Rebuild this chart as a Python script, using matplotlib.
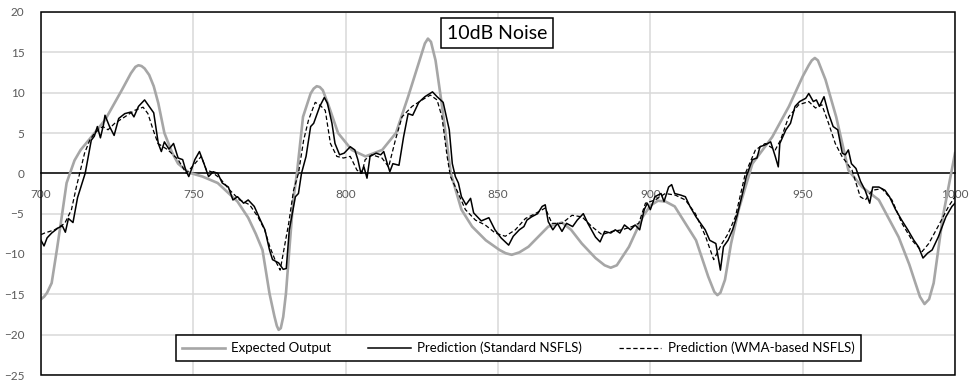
import matplotlib
matplotlib.use("Agg")
import matplotlib.pyplot as plt
from matplotlib.patches import Rectangle

# -----------------------------
# Data
# -----------------------------

expected_x = [700, 701, 702, 703.5, 705.2, 706.8, 708.4, 709.5, 711, 713, 716.5, 721, 726.5,
              729.5, 731, 732, 733, 734, 735.5, 737, 738.5, 740.5, 743, 745, 748.5, 753,
              758, 764.5, 768, 770.5, 772.7, 775, 776.6, 777.4, 778, 778.7, 779.5, 780.4,
              781.5, 782.8, 784, 786, 788.5, 789.5, 790.5, 791.5, 792.5, 794.5, 797.5,
              802, 806.5, 812, 816.5, 820.5, 823, 825, 826, 827, 828, 829.5, 831.5, 834.5,
              838, 841.5, 846, 850.5, 852.5, 854.5, 857, 860, 866.5, 871, 874, 877.5, 882,
              885, 887, 889, 893, 897.5, 900, 902.5, 905, 908, 915, 919, 921, 922, 923,
              924.5, 926.5, 929, 933.5, 940, 945.5, 950, 952, 953, 954, 955, 957.5, 961,
              965, 969.5, 975, 981.5, 985, 987, 988.5, 990, 991.5, 993, 996, 1000]
expected_y = [-15.6, -15.3, -14.8, -13.6, -9.5, -5.4, -1.2, 0.0, 1.6, 2.9, 4.5, 6.6, 10.3,
              12.4, 13.2, 13.4, 13.3, 13.0, 12.2, 10.8, 8.7, 5.0, 2.6, 1.2, 0.1, -0.4,
              -1.2, -3.5, -5.5, -7.5, -9.5, -14.9, -17.7, -18.9, -19.4, -19.2, -17.8, -14.9,
              -9.5, -3.3, 0.0, 7.0, 9.9, 10.5, 10.8, 10.7, 10.3, 8.3, 5.0,
              2.9, 2.1, 2.9, 5.0, 9.5, 12.5, 14.9, 16.1, 16.7, 16.3, 14.0, 8.7, 0.0,
              -4.5, -6.6, -8.3, -9.5, -9.9, -10.1, -9.8, -9.1, -6.6, -6.1, -7.0, -8.7, -10.5,
              -11.4, -11.7, -11.4, -9.1, -5.4, -4.0, -3.4, -3.5, -4.1, -8.3, -12.8, -14.7, -15.1, -14.8,
              -13.2, -8.7, -4.5, 1.2, 4.5, 8.3, 12.0, 13.4, 14.0, 14.3, 14.0, 11.6, 7.0,
              0.4, -1.7, -3.3, -7.9, -11.3, -13.6, -15.3, -16.2, -15.6, -13.6, -5.4, 2.5]

standard_x = [700, 701, 702, 703.5, 705.5, 707, 708, 709, 710.5, 712, 714.5, 716.5, 717.5,
              718.5, 719.5, 720.5, 721, 722.5, 724, 725.5, 727.5, 729.5, 730.5, 732, 734,
              735.5, 737, 738.5, 739.5, 740.5, 742, 743.5, 745, 746.5, 747.5, 748.5,
              749.5, 750.5, 752, 753.5, 755, 756.5, 758, 759.5, 761.5, 763, 764.5, 766.5,
              768, 770, 772, 773.5, 775, 776, 778, 779.5, 780.5, 781.5, 783.5, 784.5,
              785.5, 787, 788.5, 789.5, 791.5, 793, 794, 795.5, 796.5, 798, 799.5, 801.5,
              803, 804, 805, 806, 807, 808, 810, 811.5, 812.5, 813.5, 814.5, 815.5, 817.5,
              819, 820.5, 822, 824, 826, 828.5, 830, 832, 834, 835, 836, 837, 838, 839.5,
              841, 842, 844.5, 847, 849, 851, 853.5, 855, 857, 858.5, 859.5, 861, 863,
              864.5, 865.5, 866.5, 868, 869.5, 871, 872.5, 874.5, 876, 878, 879.5, 882,
              883.5, 885, 887, 888.5, 890, 891.5, 893.5, 895, 896.5, 898, 899, 900, 901.5,
              903.5, 904.5, 906, 907, 908, 910, 911.5, 913, 915, 916.5, 918, 919.5, 921.5,
              923, 924, 925.5, 927, 928.5, 930, 931.5, 933.5, 935, 936, 937.5, 939.5, 941,
              942, 942.5, 944.5, 946, 947.5, 949, 951, 952, 953.5, 954.5, 955.5, 957,
              958.5, 960, 961.5, 963, 964, 965, 966, 967.5, 969, 970.5, 972, 973, 975,
              977, 978.5, 980.5, 982.5, 984.5, 986.5, 988, 989.5, 991, 992.5, 994.5, 997,
              999, 1000]
standard_y = [-8.3, -9.0, -8.0, -7.4, -6.8, -6.5, -7.3, -5.6, -6.1, -3.0, 0.0, 4.1, 4.6,
              5.8, 4.4, 6.0, 7.2, 5.8, 4.7, 6.8, 7.4, 7.6, 7.0, 8.3, 9.1,
              8.3, 7.5, 3.7, 2.7, 3.9, 3.0, 3.7, 1.9, 1.7, 0.4, -0.4,
              0.6, 1.7, 2.7, 1.2, -0.4, 0.2, 0.0, -1.2, -1.7, -3.3, -2.9, -3.7,
              -3.3, -4.1, -5.8, -7.0, -9.5, -10.7, -11.1, -11.9, -11.8, -7.0, -2.9, -2.5,
              0.0, 2.1, 5.8, 6.2, 8.3, 9.4, 8.7, 6.2, 3.7, 2.3, 2.5, 3.3,
              2.9, 1.7, 0.0, 0.8, -0.6, 2.1, 2.5, 2.3, 2.7, 1.4, 0.2, 1.2, 1.0,
              4.5, 7.4, 7.2, 8.8, 9.5, 10.1, 9.5, 8.8, 5.4, 1.2, -0.4, -1.2, -2.9, -3.9,
              -3.1, -4.9, -5.9, -5.5, -7.0, -8.0, -8.9, -7.8, -7.0, -6.6, -5.8, -5.4, -5.0,
              -4.1, -3.9, -6.0, -7.0, -6.2, -7.2, -6.2, -6.6, -5.8, -5.0, -6.2, -7.9,
              -8.5, -7.2, -7.4, -7.0, -7.4, -6.4, -7.0, -6.4, -7.0, -4.5, -3.7, -4.5, -2.9,
              -2.5, -3.5, -1.7, -1.4, -2.5, -2.7, -2.9, -4.1, -5.4, -6.2, -7.0, -8.3, -8.7,
              -12.0, -9.1, -8.3, -7.0, -5.2, -2.9, -0.4, 1.7, 1.9, 3.3, 3.5, 3.9, 2.1,
              0.8, 3.7, 5.4, 6.2, 8.3, 8.9, 9.3, 9.9, 8.9, 9.1, 8.3, 9.5,
              7.4, 5.8, 5.4, 2.5, 2.3, 2.9, 1.2, 0.6, -1.0, -2.1, -3.7, -1.7, -1.7,
              -2.1, -2.9, -4.5, -5.8, -7.0, -8.3, -9.1, -10.5, -9.9, -9.5, -7.9, -5.4,
              -4.1, -3.7]

wma_x = [700, 701.2, 704.5, 707.8, 710, 711.6, 712.7, 714.3, 716, 717.6, 720.3, 722, 724.2,
         727.5, 730.7, 733.5, 735.1, 736.8, 738.4, 741.7, 745, 747.7, 750.5, 752.6, 754.3,
         755.9, 758.7, 762, 765.2, 768.5, 771.2, 773.4, 775.1, 776.9, 778.5, 781.3, 782.9,
         784.5, 786.2, 787.8, 790, 791.7, 793.3, 795, 797.1, 799.3, 801.5, 803.7, 805.3,
         806.4, 808.6, 811.9, 814.1, 816.3, 818.5, 821.8, 825.1, 827.8, 830, 831.6, 833.3,
         834.4, 836.5, 839.3, 842.6, 845.8, 849.1, 852.4, 855.7, 859, 862.2, 865.5, 867.7,
         871, 874.3, 877.6, 880.8, 884.1, 887.4, 890.7, 894, 896.2, 898.4, 901.6, 904.9,
         908.2, 911.5, 914.8, 918.1, 920.8, 923.5, 925.5, 927.9, 931.2, 934.5, 937.7, 941,
         942.7, 945.4, 948.7, 952, 954.2, 956.3, 958.5, 960.7, 962.9, 966.2, 968.9, 970.6,
         972.8, 976, 979.3, 982.6, 985.9, 989.2, 991.4, 994.7, 997.9, 1000]
wma_y = [-7.6, -7.4, -7.0, -6.2, -4.5, -1.7, 0.0, 2.5, 4.1, 5.0, 5.8, 5.4, 6.2,
         7.0, 7.8, 8.2, 7.4, 5.4, 3.7, 2.9, 1.7, 0.0, 1.2, 2.1, 0.4,
         0.2, -0.6, -2.1, -3.3, -3.9, -5.4, -7.0, -9.1, -10.8, -12.0, -6.2, -2.1,
         0.0, 4.1, 6.6, 8.8, 8.4, 7.8, 3.7, 2.1, 1.9, 2.1, 0.4, 0.0,
         1.7, 2.3, 1.9, 0.8, 4.1, 7.0, 8.3, 9.1, 9.7, 9.1, 7.0, 2.1,
         -0.4, -2.1, -4.5, -5.8, -6.4, -7.4, -7.8, -7.0, -5.6, -5.0, -4.3, -6.2,
         -6.2, -5.2, -5.4, -6.6, -7.6, -7.2, -7.0, -6.6, -6.2, -3.7, -3.3, -2.5,
         -2.7, -3.3, -5.0, -7.8, -10.7, -8.7, -7.5, -5.4, 0.0, 2.9, 3.7, 2.9,
         4.1, 7.0, 8.5, 8.9, 8.1, 8.5, 6.2, 3.7, 2.1, 0.4, -2.9, -3.3,
         -2.1, -1.9, -3.3, -6.2, -8.3, -9.7, -8.7, -6.4, -4.1, -2.9]

x_ticks = [700, 750, 800, 850, 900, 950, 1000]
y_ticks = [-25, -20, -15, -10, -5, 0, 5, 10, 15, 20]

# -----------------------------
# Plot
# -----------------------------

plt.rcParams["font.family"] = ["Lato", "DejaVu Sans"]

fig = plt.figure(figsize=(9.69, 3.83), dpi=100)
ax = fig.add_axes([41 / 969, 1 - 375 / 383, 914 / 969, 363 / 383])

ax.plot(expected_x, expected_y, color="#a6a6a6", lw=1.9, label="Expected Output",
        solid_joinstyle="round", zorder=3)
ax.plot(standard_x, standard_y, color="black", lw=1.1, label="Prediction (Standard NSFLS)", zorder=4)
ax.plot(wma_x, wma_y, color="black", lw=0.9, ls=(0, (3.5, 2)), label="Prediction (WMA-based NSFLS)", zorder=4)

ax.set_xlim(700, 1000)
ax.set_ylim(-25, 20)
ax.set_xticks(x_ticks)
ax.set_yticks(y_ticks)
ax.grid(True, color="#d9d9d9", lw=1.1, zorder=0)
ax.set_axisbelow(True)

# x axis crosses at y = 0, frame drawn separately
for side in ["top", "left", "right"]:
    ax.spines[side].set_visible(False)
ax.spines["bottom"].set_position(("data", 0))
ax.spines["bottom"].set_color("black")
ax.spines["bottom"].set_linewidth(1.1)
ax.spines["bottom"].set_zorder(2)
ax.add_patch(Rectangle((0, 0), 1, 1, transform=ax.transAxes, fill=False,
                       lw=1.1, edgecolor="black", clip_on=False, zorder=5))

ax.tick_params(axis="both", length=0, labelsize=8.5, labelcolor="#595959")
ax.tick_params(axis="x", pad=11)
ax.tick_params(axis="y", pad=12)

ax.text(0.4989, 0.942, "10dB Noise", transform=ax.transAxes, ha="center", va="center",
        fontsize=14, zorder=6,
        bbox=dict(boxstyle="square,pad=0.32", facecolor="white", edgecolor="black", lw=1.1))

leg = ax.legend(loc="center", bbox_to_anchor=(0.5224, 0.0744), ncol=3, fontsize=9.5,
                frameon=True, fancybox=False, edgecolor="black", framealpha=1,
                handlelength=3.2, handletextpad=0.5, columnspacing=2.8, borderpad=0.5,
                borderaxespad=0)
leg.get_frame().set_linewidth(1.1)
leg.set_zorder(6)

fig.savefig("out.png", dpi=100)
